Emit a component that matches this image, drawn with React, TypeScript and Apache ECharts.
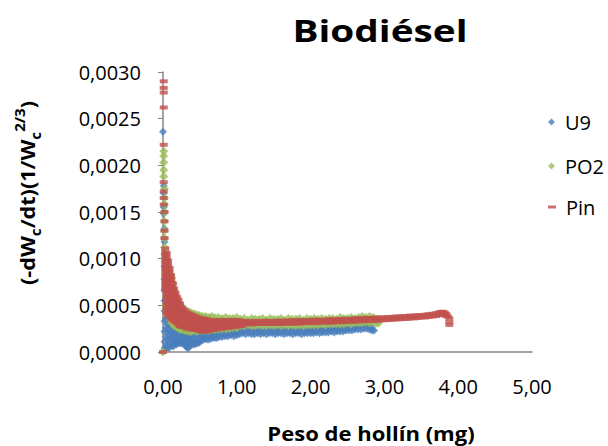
import React, { useEffect, useRef } from "react";
import * as echarts from "echarts";

// Each row: [peso de hollín (mg), ...readings of (-dWc/dt)(1/Wc^(2/3)) in units of 1e-4]
const u9Rows: number[][] = [
  [0.00, 23.6], [0.01, 17.8, 17.0, 15.5, 14.8], [0.02, 13.2, 11.8, 10.5, 9.2, 7.8, 6.6, 5.5, 4.4, 3.3, 2.2, 1.1, 0.4],
  [0.04, 5.6, 4.6, 3.6, 2.6, 1.6, 0.6], [0.06, 4.6, 3.8, 3.0, 2.2, 1.4, 0.5], [0.08, 4.2, 3.4, 2.6, 1.8, 1.0, 0.4],
  [0.10, 3.8, 3.0, 2.2, 1.5, 0.8], [0.12, 3.4, 2.7, 2.0, 1.3, 0.7], [0.14, 3.2, 2.5, 1.8, 1.2, 0.6],
  [0.16, 3.0, 2.3, 1.6, 0.9], [0.18, 2.9, 2.2, 1.5, 0.8], [0.20, 2.8, 2.1, 1.4, 0.9], [0.22, 2.7, 2.0, 1.3, 1.0],
  [0.24, 2.6, 1.9, 1.2, 0.9], [0.26, 2.6, 1.9, 1.3, 1.0], [0.28, 2.5, 1.8, 1.2, 0.9], [0.30, 2.5, 1.8, 1.1, 0.7],
  [0.32, 2.4, 1.7, 1.0, 0.5], [0.34, 2.4, 1.7, 1.0, 0.4], [0.36, 2.4, 1.7, 1.1, 0.6], [0.38, 2.4, 1.7, 1.2, 0.9],
  [0.40, 2.3, 1.7, 1.1, 0.8], [0.43, 2.3, 1.6, 1.0, 0.8], [0.46, 2.3, 1.7, 1.1, 0.9], [0.49, 2.3, 1.8, 1.2, 1.0],
  [0.52, 2.3, 1.7, 1.2], [0.55, 2.3, 1.8, 1.3], [0.58, 2.3, 1.8, 1.4], [0.61, 2.3, 1.8, 1.3], [0.64, 2.3, 1.8, 1.4],
  [0.67, 2.3, 1.9, 1.5], [0.70, 2.4, 1.9, 1.5], [0.73, 2.3, 1.9, 1.5], [0.76, 2.4, 1.9, 1.6], [0.80, 2.4, 2.0, 1.6],
  [0.84, 2.4, 2.0, 1.7], [0.88, 2.4, 2.0, 1.7], [0.92, 2.4, 2.0, 1.8], [0.96, 2.4, 2.0, 1.7], [1.00, 2.4, 2.0, 1.8],
  [1.04, 2.4, 1.9], [1.08, 2.3, 2.0], [1.12, 2.4, 1.9], [1.16, 2.4, 2.0], [1.20, 2.3, 1.9], [1.24, 2.4, 1.9],
  [1.28, 2.4, 2.0], [1.32, 2.3, 1.9], [1.36, 2.4, 2.0], [1.40, 2.4, 1.9], [1.44, 2.3, 2.0], [1.48, 2.4, 2.0],
  [1.52, 2.4, 1.9], [1.56, 2.3, 2.0], [1.60, 2.4, 2.0], [1.64, 2.4, 1.9], [1.68, 2.3, 2.0], [1.72, 2.4, 2.0],
  [1.76, 2.4, 1.9], [1.80, 2.3, 2.0], [1.84, 2.4, 2.0], [1.88, 2.4, 1.9], [1.92, 2.4, 2.0], [1.96, 2.3, 2.0],
  [2.00, 2.4, 2.0], [2.04, 2.4, 2.0], [2.08, 2.4, 2.1], [2.12, 2.5, 2.0], [2.16, 2.4, 2.1], [2.20, 2.5, 2.1],
  [2.24, 2.5, 2.1], [2.28, 2.5, 2.2], [2.32, 2.6, 2.1], [2.36, 2.5, 2.2], [2.40, 2.6, 2.2], [2.44, 2.6, 2.2],
  [2.48, 2.6, 2.3], [2.52, 2.7, 2.3], [2.56, 2.7, 2.3], [2.60, 2.7, 2.4], [2.64, 2.8, 2.4], [2.68, 2.8, 2.4],
  [2.72, 2.9, 2.5], [2.76, 2.9, 2.5], [2.80, 2.8, 2.4], [2.83, 2.6, 2.3], [2.86, 2.3],
];

const po2Rows: number[][] = [
  [0.00, 0.0], [0.01, 21.5, 21.0, 20.3, 19.5, 18.8], [0.02, 17.5, 16.5, 15.8, 15.0, 14.0, 13.0, 12.2, 11.2],
  [0.03, 10.4, 9.6], [0.04, 10.0, 9.0, 8.0, 7.0, 6.0, 5.0, 4.5], [0.06, 9.3, 8.3, 7.3, 6.3, 5.3, 4.3],
  [0.08, 8.7, 7.7, 6.7, 5.7, 4.7, 3.8], [0.10, 8.3, 7.3, 6.3, 5.3, 4.3, 3.4], [0.12, 7.9, 6.9, 5.9, 4.9, 3.9, 3.1],
  [0.14, 7.3, 6.3, 5.3, 4.3, 3.3, 2.9], [0.16, 6.5, 5.6, 4.7, 3.8, 2.9, 2.8], [0.18, 5.8, 5.0, 4.2, 3.4, 2.7],
  [0.20, 5.4, 4.6, 3.8, 3.0, 2.6], [0.23, 5.0, 4.2, 3.4, 2.6, 2.4], [0.26, 4.8, 4.0, 3.2, 2.4],
  [0.29, 4.6, 3.8, 3.0, 2.3], [0.32, 4.4, 3.6, 2.8, 2.3], [0.35, 4.3, 3.5, 2.7, 2.2], [0.38, 4.2, 3.4, 2.6, 2.2],
  [0.42, 4.1, 3.3, 2.5, 2.3], [0.46, 4.0, 3.2, 2.4, 2.2], [0.50, 3.9, 3.1, 2.3], [0.54, 3.8, 3.1, 2.3],
  [0.58, 3.8, 3.0, 2.3], [0.62, 3.7, 3.0, 2.3], [0.66, 3.8, 3.0, 2.4], [0.70, 3.7, 3.0, 2.4], [0.75, 3.7, 3.0, 2.4],
  [0.80, 3.6, 3.0, 2.5], [0.85, 3.7, 3.1, 2.5], [0.90, 3.6, 3.0, 2.5], [0.95, 3.6, 3.1, 2.6], [1.00, 3.7, 3.1, 2.6],
  [1.05, 3.5, 2.8], [1.10, 3.6, 2.8], [1.15, 3.4, 2.9], [1.20, 3.6, 2.8], [1.25, 3.5, 2.8], [1.30, 3.5, 2.9],
  [1.35, 3.6, 2.8], [1.40, 3.4, 2.8], [1.45, 3.6, 2.9], [1.50, 3.5, 2.8], [1.55, 3.5, 2.9], [1.60, 3.6, 2.8],
  [1.65, 3.4, 2.9], [1.70, 3.6, 2.8], [1.75, 3.5, 2.9], [1.80, 3.5, 2.8], [1.85, 3.6, 2.9], [1.90, 3.4, 2.8],
  [1.95, 3.6, 2.9], [2.00, 3.5, 2.9], [2.05, 3.6, 2.9], [2.10, 3.5, 2.9], [2.15, 3.6, 3.0], [2.20, 3.5, 2.9],
  [2.25, 3.6, 3.0], [2.30, 3.6, 3.0], [2.35, 3.5, 3.0], [2.40, 3.7, 3.0], [2.45, 3.6, 3.0], [2.50, 3.6, 3.1],
  [2.55, 3.7, 3.0], [2.60, 3.6, 3.1], [2.65, 3.7, 3.1], [2.70, 3.8, 3.1], [2.75, 3.7, 3.2], [2.80, 3.8, 3.1],
  [2.85, 3.7, 3.2], [2.89, 3.5, 3.1], [2.92, 3.1],
];

const pinRows: number[][] = [
  [0.00, 0.0], [0.01, 29.0, 28.3, 27.8, 26.2, 22.2, 18.2, 17.2, 16.5, 15.8], [0.02, 15.0, 14.0, 13.0, 12.2],
  [0.03, 11.1, 10.7, 10.3, 9.9, 9.5, 9.1, 8.7, 8.3, 7.9, 7.5, 7.1, 6.7],
  [0.05, 10.6, 10.2, 9.8, 9.4, 9.0, 8.6, 8.2, 7.8, 7.4, 7.0, 6.6, 6.2, 5.8, 5.4, 5.0, 4.6, 4.2],
  [0.07, 9.8, 9.4, 9.0, 8.6, 8.2, 7.8, 7.4, 7.0, 6.6, 6.2, 5.8, 5.4, 5.0, 4.6, 4.2, 3.9],
  [0.09, 9.0, 8.6, 8.2, 7.8, 7.4, 7.0, 6.6, 6.2, 5.8, 5.4, 5.0, 4.6, 4.2, 3.8],
  [0.11, 8.2, 7.8, 7.4, 7.0, 6.6, 6.2, 5.8, 5.4, 5.0, 4.6, 4.2, 3.8, 3.5],
  [0.13, 7.4, 7.0, 6.6, 6.2, 5.8, 5.4, 5.0, 4.6, 4.2, 3.8, 3.5],
  [0.15, 6.8, 6.4, 6.0, 5.6, 5.2, 4.8, 4.4, 4.0, 3.6, 3.3], [0.17, 6.3, 5.9, 5.5, 5.1, 4.7, 4.3, 3.9, 3.5, 3.2],
  [0.19, 5.9, 5.5, 5.1, 4.7, 4.3, 3.9, 3.5, 3.1], [0.21, 5.6, 5.2, 4.8, 4.4, 4.0, 3.6, 3.2, 2.9],
  [0.23, 5.2, 4.8, 4.4, 4.0, 3.6, 3.2, 2.8], [0.25, 4.8, 4.4, 4.0, 3.6, 3.2, 2.8, 2.7],
  [0.27, 4.6, 4.2, 3.8, 3.4, 3.0, 2.7], [0.30, 4.4, 4.0, 3.6, 3.2, 2.8, 2.6], [0.33, 4.2, 3.8, 3.4, 3.0, 2.6, 2.5],
  [0.36, 4.1, 3.7, 3.3, 2.9, 2.5], [0.39, 4.0, 3.6, 3.2, 2.8, 2.4], [0.42, 3.9, 3.5, 3.1, 2.7, 2.4],
  [0.45, 3.8, 3.4, 3.0, 2.6, 2.4], [0.48, 3.7, 3.3, 2.9, 2.5, 2.3], [0.51, 3.6, 3.2, 2.8, 2.4, 2.2],
  [0.54, 3.6, 3.2, 2.8, 2.4, 2.2], [0.57, 3.5, 3.1, 2.7, 2.3, 2.2], [0.60, 3.5, 3.1, 2.7, 2.3, 2.2],
  [0.64, 3.4, 3.0, 2.6, 2.3], [0.68, 3.4, 3.0, 2.6, 2.4], [0.72, 3.4, 3.0, 2.6, 2.4], [0.76, 3.4, 3.0, 2.6, 2.5],
  [0.80, 3.4, 3.0, 2.6, 2.5], [0.84, 3.4, 3.0, 2.6], [0.88, 3.4, 3.0, 2.6], [0.92, 3.4, 3.0, 2.6],
  [0.96, 3.4, 3.0, 2.7], [1.00, 3.4, 3.0, 2.7], [1.04, 3.4, 3.0, 2.8], [1.08, 3.3, 3.0, 2.8],
  [1.10, 3.3, 3.0], [1.15, 3.3, 3.0], [1.20, 3.3, 2.95], [1.25, 3.3, 3.0], [1.30, 3.3, 3.0], [1.35, 3.3, 3.0],
  [1.40, 3.35, 3.0], [1.45, 3.3, 3.0], [1.50, 3.3, 3.0], [1.55, 3.35, 3.0], [1.60, 3.35, 3.0], [1.65, 3.35, 3.05],
  [1.70, 3.35, 3.05], [1.75, 3.4, 3.05], [1.80, 3.4, 3.05], [1.85, 3.4, 3.05], [1.90, 3.4, 3.1], [1.95, 3.4, 3.1],
  [2.00, 3.4, 3.1], [2.05, 3.45, 3.1], [2.10, 3.45, 3.1], [2.15, 3.45, 3.15], [2.20, 3.45, 3.15], [2.25, 3.5, 3.15],
  [2.30, 3.5, 3.15], [2.35, 3.5, 3.2], [2.40, 3.5, 3.2], [2.45, 3.55, 3.2], [2.50, 3.55, 3.25], [2.55, 3.55, 3.25],
  [2.60, 3.6, 3.25], [2.65, 3.6, 3.3], [2.70, 3.6, 3.3], [2.75, 3.65, 3.3], [2.80, 3.65, 3.35], [2.85, 3.65, 3.35],
  [2.90, 3.7, 3.35], [2.95, 3.7, 3.4], [3.00, 3.7, 3.4], [3.05, 3.75, 3.45], [3.10, 3.75, 3.45], [3.15, 3.8, 3.5],
  [3.20, 3.8, 3.5], [3.25, 3.85, 3.55], [3.30, 3.85, 3.55], [3.35, 3.9, 3.6], [3.40, 3.9, 3.6], [3.45, 3.95, 3.65],
  [3.50, 3.95, 3.7], [3.55, 4.0, 3.7], [3.60, 4.05, 3.75], [3.65, 4.1, 3.8], [3.70, 4.15, 3.85], [3.74, 4.25, 3.95],
  [3.77, 4.3, 4.0], [3.80, 4.3, 4.0], [3.82, 4.2, 3.95], [3.84, 4.05, 3.85], [3.86, 3.8], [3.88, 3.6, 3.2, 2.9],
];

const seriesNames = ["U9", "PO2", "Pin"];
const seriesColors = ["#4A7EBB", "#9BBB59", "#C0504D"];
const VALUE_UNIT = 1e-4;

const FONT = "'Open Sans', 'Noto Sans', sans-serif";
const AXIS_GRAY = "#868686";

function toPoints(rows: number[][]): [number, number][] {
  const pts: [number, number][] = [];
  rows.forEach(([x, ...ys]) => ys.forEach((y) => pts.push([x, y * VALUE_UNIT])));
  return pts;
}

export default function App() {
  const ref = useRef<HTMLDivElement>(null);

  useEffect(() => {
    document.body.style.margin = "0";
    if (!ref.current) return;
    const chart = echarts.init(ref.current, undefined, { renderer: "svg" });

    const legendBase = {
      orient: "vertical" as const,
      left: 548,
      padding: 0,
      selectedMode: false,
      textStyle: { fontSize: 20, color: "#000", fontFamily: FONT, padding: [0, 0, 0, 5] },
    };

    chart.setOption({
      animation: false,
      backgroundColor: "#fff",
      textStyle: { fontFamily: FONT },
      grid: { left: 163, right: 76, top: 72, bottom: 94, containLabel: false },
      xAxis: {
        type: "value",
        min: 0,
        max: 5,
        interval: 1,
        axisLine: { show: true, lineStyle: { color: AXIS_GRAY, width: 1.5 } },
        axisTick: { show: false },
        splitLine: { show: false },
        axisLabel: {
          margin: 24,
          fontSize: 20,
          color: "#000",
          fontFamily: FONT,
          formatter: (v: number) => v.toFixed(2).replace(".", ","),
        },
      },
      yAxis: {
        type: "value",
        min: 0,
        max: 0.003,
        interval: 0.0005,
        axisLine: { show: true, lineStyle: { color: AXIS_GRAY, width: 1.5 } },
        axisTick: { show: true, length: 5, lineStyle: { color: AXIS_GRAY } },
        splitLine: { show: false },
        axisLabel: {
          margin: 22,
          fontSize: 20,
          color: "#000",
          fontFamily: FONT,
          formatter: (v: number) => v.toFixed(4).replace(".", ","),
        },
      },
      legend: [
        { ...legendBase, top: 112, data: [{ name: seriesNames[0], icon: "diamond" }], itemWidth: 7, itemHeight: 7 },
        { ...legendBase, top: 156, data: [{ name: seriesNames[1], icon: "diamond" }], itemWidth: 7, itemHeight: 7 },
        { ...legendBase, top: 197, data: [{ name: seriesNames[2], icon: "rect" }], itemWidth: 8, itemHeight: 3 },
      ],
      series: [
        {
          name: seriesNames[0],
          type: "scatter",
          symbol: "diamond",
          symbolSize: 8,
          itemStyle: { color: seriesColors[0] },
          data: toPoints(u9Rows),
          z: 2,
        },
        {
          name: seriesNames[1],
          type: "scatter",
          symbol: "diamond",
          symbolSize: 9,
          itemStyle: { color: seriesColors[1] },
          data: toPoints(po2Rows),
          z: 3,
        },
        {
          name: seriesNames[2],
          type: "scatter",
          symbol: "rect",
          symbolSize: [8, 4],
          itemStyle: { color: seriesColors[2] },
          data: toPoints(pinRows),
          z: 4,
        },
      ],
      graphic: [
        {
          type: "text",
          x: 380,
          y: 30,
          scaleX: 1.25,
          style: {
            text: "Biodiésel",
            fontSize: 31,
            fontWeight: "bold",
            fontFamily: FONT,
            fill: "#000",
            align: "center",
            verticalAlign: "middle",
          },
        },
        {
          type: "text",
          x: 371,
          y: 434,
          scaleX: 1.16,
          style: {
            text: "Peso de hollín (mg)",
            fontSize: 19,
            fontWeight: "bold",
            fontFamily: FONT,
            fill: "#000",
            align: "center",
            verticalAlign: "middle",
          },
        },
        {
          type: "text",
          x: 27,
          y: 193,
          rotation: Math.PI / 2,
          scaleX: 1.08,
          style: {
            text: "(-dW{sub|c}/dt)(1/W{sub|c}{sup|2/3})",
            fontSize: 20,
            fontWeight: "bold",
            fontFamily: FONT,
            fill: "#000",
            align: "center",
            verticalAlign: "middle",
            lineHeight: 30,
            rich: {
              sub: { fontSize: 14, fontWeight: "bold", fontFamily: FONT, verticalAlign: "bottom", lineHeight: 14 },
              sup: { fontSize: 14, fontWeight: "bold", fontFamily: FONT, verticalAlign: "top", lineHeight: 14 },
            },
          },
        },
      ],
    });

    return () => chart.dispose();
  }, []);

  return <div ref={ref} style={{ width: 608, height: 446 }} />;
}
